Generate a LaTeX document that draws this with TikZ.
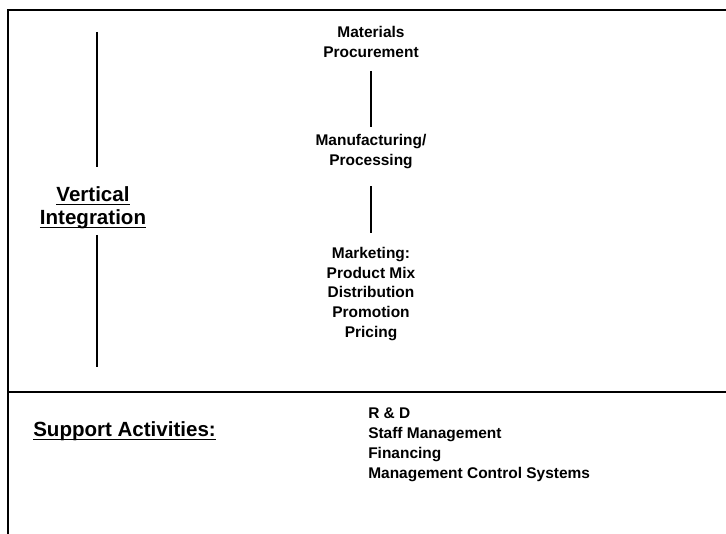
\documentclass[tikz,border=0pt]{standalone}
\usepackage{fontspec}
\setmainfont{Liberation Sans}
% heavy underline drawn at a fixed depth, through descenders
\newcommand\hdul[1]{\setbox0\hbox{#1}\rlap{\rule[-3.2pt]{\wd0}{1.4pt}}\box0}
\begin{document}
\begin{tikzpicture}[x=0.75pt,y=-0.75pt,
  frame/.style={line width=1.9pt},
  rule/.style={line width=1.5pt},
  item/.style={font=\fontsize{11.6}{14.8}\selectfont\bfseries, inner sep=0pt},
  head/.style={font=\fontsize{15.4}{17.3}\selectfont\bfseries, inner sep=0pt},
]
\useasboundingbox (0,0) rectangle (726,534);

% frame: top and left edges, and the divider above the support activities
\draw[frame] (8,534) -- (8,10) -- (726,10);
\draw[frame] (8,392) -- (726,392);

% value chain column
\node[item, align=center, anchor=north] (mat) at (371,26) {Materials\\Procurement};
\node[item, align=center, anchor=north] (man) at (371,134) {Manufacturing/\\Processing};
\node[item, align=center, anchor=north] (mkt) at (371,247)
  {Marketing:\\Product Mix\\Distribution\\Promotion\\Pricing};
\draw[rule, shorten <=10pt, shorten >=5.5pt] (mat.south) -- (man.north);
\draw[rule, shorten <=13pt, shorten >=10.5pt] (man.south) -- (mkt.north);

% vertical integration axis
\node[head, align=center, anchor=north] (vi) at (93,186) {\hdul{Vertical}\\\hdul{Integration}};
\coordinate (vtop) at (97,32);
\coordinate (vbot) at (97,367);
\draw[rule, shorten >=14pt] (vtop) -- (vtop |- vi.north);
\draw[rule, shorten <=4.5pt] (vbot |- vi.south) -- (vbot);

% support activities
\node[head, anchor=north west] (sup) at (33,421) {\hdul{Support Activities:}};
\node[item, align=left, anchor=north west] (acts) at (368,408)
  {R \& D\\Staff Management\\Financing\\Management Control Systems};
\end{tikzpicture}
\end{document}
